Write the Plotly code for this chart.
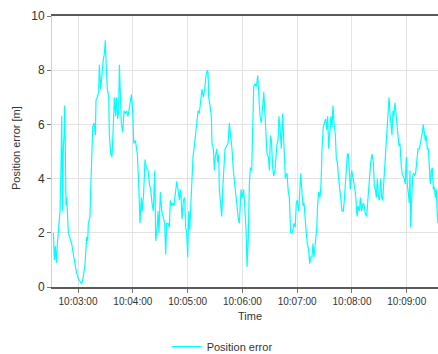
import pandas as pd
import plotly.graph_objects as go

# seconds relative to 10:03:00
seconds = [
    -27.0, -25.9, -24.8, -23.7, -22.6, -21.2, -19.7, -18.6, -17.9, -17.2, -16.8, -16.1, -15.3, -14.6,
    -13.9, -13.1, -12.4, -11.7, -10.6, -8.8, -6.9, -5.1, -3.3, -1.5, 0.4, 2.2, 4.0, 5.8, 7.7, 9.5,
    10.6, 11.3, 13.1, 13.9, 15.0, 16.1, 17.5, 19.0, 19.7, 21.2, 22.6, 23.4, 24.8, 25.9, 27.7, 28.8,
    29.9, 30.7, 32.1, 33.6, 34.3, 35.8, 37.2, 38.7, 39.8, 41.2, 42.3, 43.4, 44.5, 45.3, 46.4, 47.4,
    48.9, 50.4, 51.8, 53.3, 54.8,
    56.6, 58.4, 59.9, 61.0, 62.8, 65.0, 66.4, 67.9, 69.3, 70.4, 71.9, 73.4, 74.8, 76.7, 78.1, 79.6,
    81.0, 82.5, 84.0, 85.1, 86.5, 87.6, 88.7, 90.1, 91.7, 92.7, 93.8, 94.9, 96.0, 97.1, 98.6, 100.0,
    101.1, 102.6, 103.7, 105.1, 106.6, 108.1, 109.5, 111.0, 112.5, 113.9, 115.4, 116.8, 117.9, 119.0,
    120.1, 121.2, 122.3, 123.4, 124.5, 125.9, 127.4, 128.9, 130.0, 131.4, 132.8, 134.4, 135.8, 137.2,
    138.7, 140.2, 141.6,
    142.4, 143.1, 144.5, 146.0, 146.7, 148.2, 149.3, 150.3, 151.9, 153.0, 154.1, 154.7, 155.8, 157.4,
    158.4, 159.9, 161.0, 162.8, 164.3, 165.7, 167.2, 168.6, 170.1, 171.6, 173.0, 174.5, 175.6, 176.7,
    177.4, 178.5, 179.9, 181.4, 182.5, 184.0, 185.1, 186.5, 187.6, 188.7, 190.2, 191.3, 192.4, 193.8,
    195.3, 196.8, 197.9, 199.3, 200.8, 202.3, 203.4, 204.5, 205.9, 207.0, 208.5, 209.6, 210.7, 211.8,
    213.2, 214.3, 215.7, 216.8, 217.9, 219.0, 220.1, 221.2, 222.6, 224.1, 225.6, 227.0,
    227.8, 228.9, 230.0, 231.4, 232.9, 234.7, 236.5, 237.9, 239.0, 240.1, 241.7, 242.8, 243.9, 245.0,
    246.4, 247.5, 248.6, 249.7, 251.1, 252.6, 253.7, 254.8, 256.2, 257.3, 258.4, 259.9, 261.3, 262.4,
    263.5, 265.0, 266.1, 267.2, 268.6, 269.7, 271.2, 272.3, 273.4, 274.5, 275.6, 277.0, 278.1, 279.2,
    280.3, 281.8, 282.9, 284.0, 285.1, 286.2, 287.6, 289.1, 290.5, 291.6, 292.7, 293.8, 294.9, 296.0,
    297.1, 298.2, 299.7, 300.8, 302.2, 303.3, 304.4, 305.5, 306.6, 308.1, 309.2, 310.6, 312.1,
    313.5, 314.6, 316.1, 317.6, 319.0, 320.5, 321.9, 323.4, 324.5, 325.6, 326.7, 327.8, 328.9, 330.0,
    331.4, 332.5, 333.6, 335.1, 336.2, 337.3, 338.4, 339.5, 340.6, 341.6, 342.7, 343.8, 344.9, 346.0,
    347.1, 348.2, 349.3, 350.4, 351.5, 352.6, 353.7, 354.8, 355.9, 357.3, 358.4, 359.5, 360.6, 361.7,
    362.8, 363.5, 364.3, 365.4, 366.5, 367.6, 368.7, 369.7, 370.8, 372.3, 373.8, 374.9, 376.0, 377.0,
    378.1, 379.2, 380.3, 381.4, 382.5, 383.6, 384.7, 385.8, 386.9, 388.0, 389.1, 390.2, 391.3, 392.4,
    393.5, 394.2,
]

position_error = [
    2.0, 1.0, 1.5, 0.9, 1.6, 2.2, 2.8, 4.5, 6.3, 4.0, 2.8, 5.1, 5.6, 6.7,
    4.8, 3.0, 3.3, 2.6, 2.0, 1.8, 1.6, 1.2, 0.86, 0.5, 0.3, 0.19, 0.12, 0.37, 0.86, 1.85,
    1.7, 2.35, 2.6, 3.6, 4.9, 5.9, 6.05, 5.6, 6.9, 7.0, 7.2, 8.2, 7.3, 7.8, 8.4, 8.6,
    9.1, 8.3, 7.3, 7.0, 5.6, 4.9, 4.8, 6.05, 7.0, 6.3, 7.0, 6.2, 6.5, 8.2, 7.0, 6.05,
    5.7, 6.5, 6.4, 6.5, 6.3,
    6.7, 7.1, 6.5, 5.3, 5.4, 4.9, 3.8, 2.35, 3.3, 2.8, 3.5, 4.7, 4.4, 4.3, 3.8, 3.6,
    3.1, 2.8, 4.3, 1.7, 2.1, 2.8, 2.0, 3.5, 2.8, 2.6, 2.5, 2.35, 1.2, 2.35, 2.35, 2.2,
    3.2, 3.0, 3.1, 3.0, 3.5, 3.9, 3.6, 3.2, 3.6, 2.5, 3.2, 3.3, 2.2, 2.0,
    1.1, 2.8, 2.1, 3.0, 3.8, 4.8, 5.2, 5.6, 6.05, 6.5, 6.4, 6.9, 7.3, 7.0,
    7.3, 7.8, 8.0,
    7.9, 7.0, 6.7, 6.3, 5.3, 5.1, 4.3, 4.8, 5.1, 4.6, 4.9, 3.6, 3.2, 2.6,
    3.6, 4.6, 5.1, 5.2, 5.3, 6.05, 5.6, 5.1, 4.3, 3.8, 3.2, 2.8, 2.5, 2.35,
    3.0, 3.6, 3.3, 3.6, 3.0, 2.1, 0.74, 1.85, 3.8, 4.4, 4.3, 5.9, 7.4, 7.5,
    7.4, 7.8, 7.3, 6.3, 6.05, 6.7, 7.2, 6.5, 5.7, 4.9, 4.8, 4.3, 5.6, 5.4,
    4.4, 4.1, 4.3, 4.9, 5.3, 5.4, 6.3, 5.9, 5.1, 6.4, 5.3, 4.0,
    4.1, 4.2, 3.6, 3.3, 2.0, 2.0, 2.35, 2.2, 3.1, 3.2, 2.8, 3.8, 4.2, 3.6,
    3.0, 3.1, 2.35, 2.1, 1.6, 1.35, 0.86, 1.1, 1.1, 1.6, 1.1, 1.7, 2.1, 3.0,
    3.5, 3.3, 3.8, 5.1, 5.9, 6.05, 6.2, 5.8, 6.3, 5.1, 5.8, 6.3, 5.9, 6.7,
    6.05, 5.6, 4.7, 4.6, 4.1, 3.6, 3.3, 2.8, 2.8, 3.2, 3.6, 4.3, 4.9, 4.9,
    4.3, 3.6, 4.3, 4.1, 3.7, 3.6, 3.2, 2.6, 3.0, 2.8, 3.3, 2.8, 3.1,
    3.0, 2.7, 2.6, 3.3, 4.1, 4.6, 4.9, 4.6, 3.7, 3.6, 3.3, 4.0, 3.3, 3.2,
    4.0, 3.3, 3.2, 4.0, 4.8, 5.4, 6.05, 6.5, 7.0, 6.4, 6.05, 5.6, 6.5, 6.3,
    6.8, 6.3, 6.05, 5.6, 5.2, 5.3, 4.6, 4.2, 4.1, 4.0, 3.8, 4.8, 3.8, 3.3,
    3.1, 4.3, 2.2, 3.3, 4.1, 4.2, 4.1, 4.2, 4.6, 5.1, 5.1, 5.3, 5.4, 5.7,
    6.0, 5.7, 5.4, 5.6, 5.1, 5.1, 4.1, 3.8, 4.3, 4.4, 3.6, 3.7, 3.3, 3.6,
    2.6, 2.35,
]

y_ticks = [0, 2, 4, 6, 8, 10]
x_start = "2000-01-01 10:02:31.5"
x_end = "2000-01-01 10:09:34.2"

base = pd.Timestamp("2000-01-01 10:03:00")
times = base + pd.to_timedelta(seconds, unit="s")

FONT = "Liberation Sans, Arial, sans-serif"

fig = go.Figure()
fig.add_trace(go.Scatter(
    x=times, y=position_error, mode="lines", name="Position error",
    line=dict(color="#00FFFF", width=1.2),
))

fig.update_layout(
    width=438, height=354,
    margin=dict(l=52, r=0, t=16, b=67, autoexpand=False),
    paper_bgcolor="white", plot_bgcolor="white",
    font=dict(family=FONT, color="#333333"),
    showlegend=True,
    legend=dict(orientation="h", x=0.297, xanchor="left", y=-0.22, yanchor="middle",
                font=dict(size=11, color="#333333"), bgcolor="rgba(0,0,0,0)"),
    annotations=[
        dict(text="Position error [m]", textangle=-90, showarrow=False,
             xref="paper", yref="paper", x=(16 - 52) / 386, y=0.513,
             xanchor="center", yanchor="middle",
             font=dict(size=11, color="#333333")),
        dict(text="Time", showarrow=False,
             xref="paper", yref="paper", x=(250 - 52) / 386, y=-(316 - 287) / 271,
             xanchor="center", yanchor="middle",
             font=dict(size=11, color="#333333")),
    ],
)
fig.update_xaxes(
    type="date", range=[x_start, x_end], dtick=60000, tick0="2000-01-01 10:03:00",
    tickformat="%H:%M:%S", tickfont=dict(size=10, color="#333333"),
    showgrid=True, gridcolor="#e3e3e3", gridwidth=1,
    showline=True, linecolor="#5a5a5a", linewidth=2, mirror=True,
    ticks="outside", ticklen=4, tickcolor="#777777",
    automargin=False, zeroline=False,
)
fig.update_yaxes(
    range=[0, 10], tickvals=y_ticks, tickfont=dict(size=12, color="#333333"),
    showgrid=True, gridcolor="#e3e3e3", gridwidth=1,
    showline=True, linecolor="#d0d0d0", linewidth=1,
    ticks="outside", ticklen=4, tickcolor="#777777",
    automargin=False, zeroline=False,
)

fig.write_html(
    "out.html",
    config={"displayModeBar": False},
    post_script="document.body.style.margin='0px';document.body.style.overflow='hidden';",
)
